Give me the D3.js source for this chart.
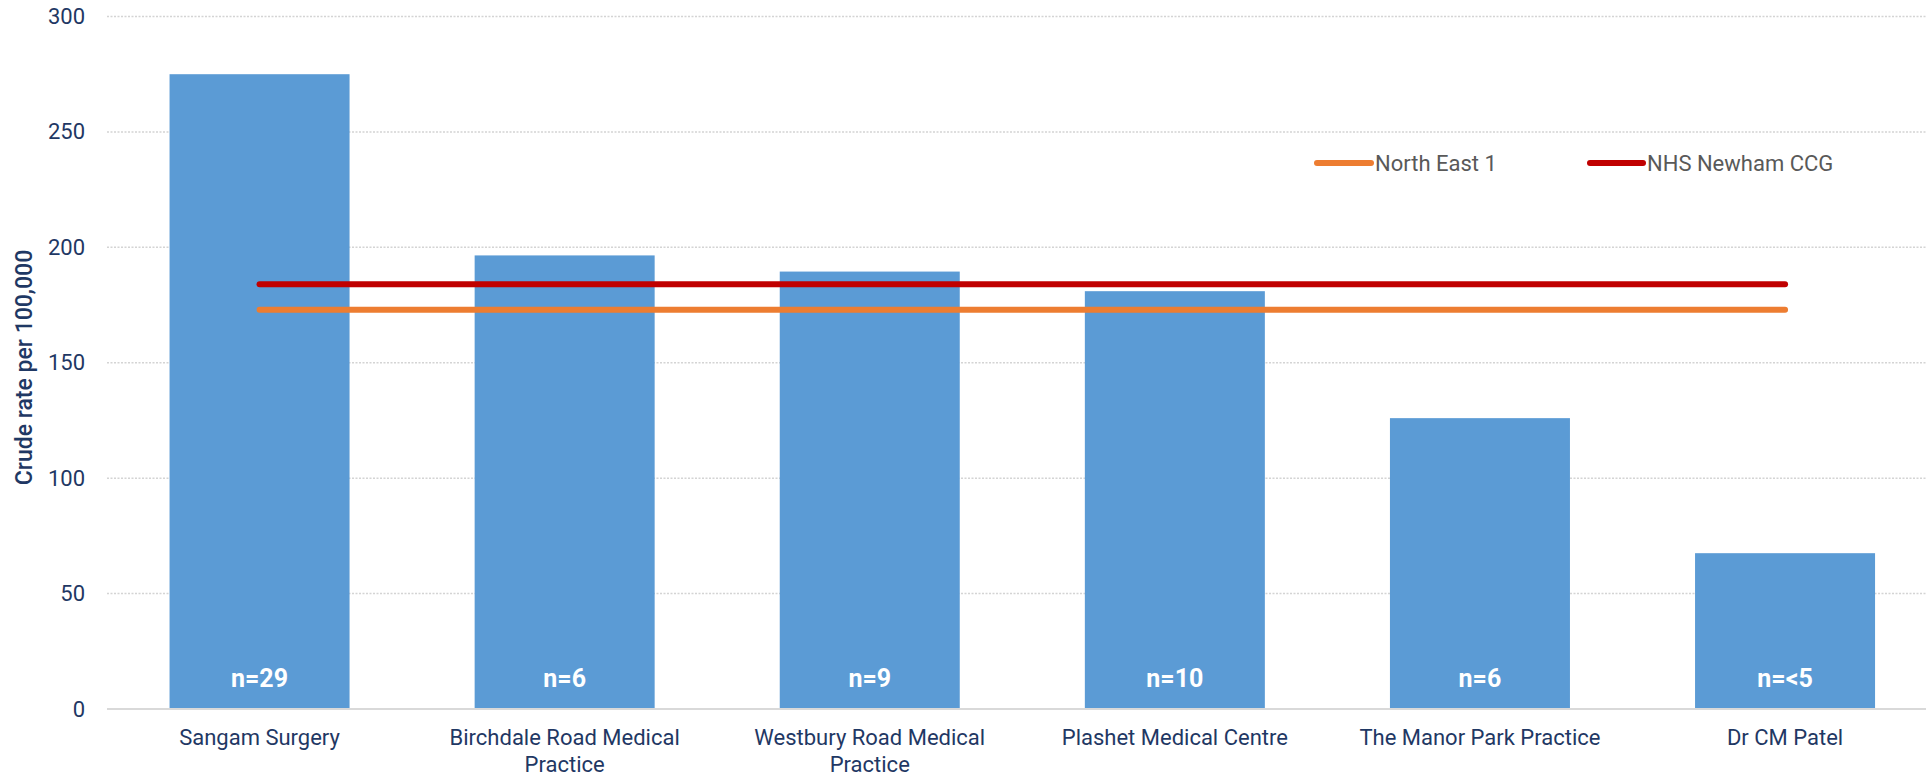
<!DOCTYPE html>
<html><head><meta charset="utf-8">
<script src="https://cdn.jsdelivr.net/npm/d3@7"></script>
<style>
html,body{margin:0;padding:0;background:#fff;}
svg{display:block;}
text{font-family:Roboto,"Noto Sans",sans-serif;}
</style></head>
<body>
<svg id="chart" width="1926" height="777"></svg>
<script>
const categories = ["Sangam Surgery","Birchdale Road Medical Practice","Westbury Road Medical Practice","Plashet Medical Centre","The Manor Park Practice","Dr CM Patel"];
const rates = [275, 196.5, 189.5, 181, 126, 67.5];
const counts = ["n=29","n=6","n=9","n=10","n=6","n=<5"];
const northEast1 = [173,173,173,173,173,173];
const newhamCCG = [184,184,184,184,184,184];
const yTicks = [0,50,100,150,200,250,300];
const seriesNames = ["North East 1","NHS Newham CCG"];

(function(){
const svg = d3.select("#chart");
const mLeft = 107, mRight = 1937.6, mTop = 16.5, mBottom = 709;
const x = d3.scaleBand().domain(categories).range([mLeft,mRight]).paddingInner(0.41).paddingOuter(0.205);
const y = d3.scaleLinear().domain([0,300]).range([mBottom,mTop]);
const navy = "#1f3864";

svg.append("g").selectAll("line").data(yTicks.filter(d=>d>0)).join("line")
  .attr("x1",mLeft).attr("x2",1926).attr("y1",d=>y(d)).attr("y2",d=>y(d))
  .attr("stroke","#d4d4d4").attr("stroke-width",1.5).attr("stroke-dasharray","2,1.5");

const yAxis = d3.axisLeft(y).tickValues(yTicks).tickSize(0).tickPadding(0).tickFormat(d3.format("d"));
const yg = svg.append("g").attr("transform",`translate(85,0)`).call(yAxis);
yg.select(".domain").remove();
yg.selectAll("text").attr("font-size",22).attr("fill",navy).attr("font-family","Roboto,sans-serif");

svg.append("text").attr("transform",`translate(32,${(240+495)/2}) rotate(-90)`)
  .attr("text-anchor","middle").attr("font-size",23).attr("font-weight",500).attr("fill",navy)
  .text("Crude rate per 100,000");

svg.append("g").selectAll("rect").data(categories).join("rect")
  .attr("x",d=>x(d)).attr("width",x.bandwidth())
  .attr("y",(d,i)=>y(rates[i])).attr("height",(d,i)=>y(0)-y(rates[i]))
  .attr("fill","#5b9bd5");

svg.append("line").attr("x1",mLeft).attr("x2",1926).attr("y1",y(0)).attr("y2",y(0))
  .attr("stroke","#d9d9d9").attr("stroke-width",2);

svg.append("g").selectAll("text").data(categories).join("text")
  .attr("x",d=>x(d)+x.bandwidth()/2).attr("y",y(0)-22)
  .attr("text-anchor","middle").attr("font-size",25).attr("font-weight",700).attr("fill","#fff")
  .text((d,i)=>counts[i]);

const lineGen = d3.line().x((d,i)=>x(categories[i])+x.bandwidth()/2).y(d=>y(d));
svg.append("path").datum(northEast1).attr("d",lineGen).attr("fill","none")
  .attr("stroke","#ed7d31").attr("stroke-width",6).attr("stroke-linecap","round");
svg.append("path").datum(newhamCCG).attr("d",lineGen).attr("fill","none")
  .attr("stroke","#c00000").attr("stroke-width",6).attr("stroke-linecap","round");

const xl = svg.append("g");
categories.forEach((c,i)=>{
  const cx = x(c)+x.bandwidth()/2;
  const t = xl.append("text").attr("text-anchor","middle").attr("font-size",22).attr("fill",navy)
    .attr("x",cx).attr("y",745);
  const words = c.split(" ");
  let line = [];
  let ts = t.append("tspan").attr("x",cx).attr("dy",0);
  words.forEach(w=>{
    line.push(w);
    ts.text(line.join(" "));
    if (ts.node().getComputedTextLength() > 280 && line.length>1){
      line.pop(); ts.text(line.join(" "));
      line=[w];
      ts = t.append("tspan").attr("x",cx).attr("dy",27).text(w);
    }
  });
});

const legendItems = [{name:seriesNames[0],color:"#ed7d31",x1:1317,x2:1371,tx:1375},
                     {name:seriesNames[1],color:"#c00000",x1:1590,x2:1643,tx:1647}];
const lg = svg.append("g");
legendItems.forEach(l=>{
  lg.append("line").attr("x1",l.x1).attr("x2",l.x2).attr("y1",163).attr("y2",163)
    .attr("stroke",l.color).attr("stroke-width",6).attr("stroke-linecap","round");
  lg.append("text").attr("x",l.tx).attr("y",163).attr("dy","0.35em").attr("font-size",22)
    .attr("fill","#595959").text(l.name);
});
})();
</script>
</body></html>
